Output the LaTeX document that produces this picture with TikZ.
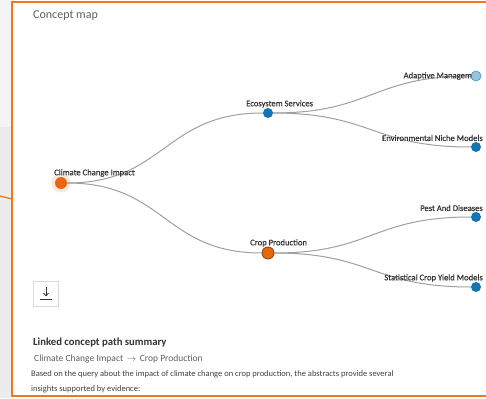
\documentclass[tikz,border=0pt]{standalone}
\usepackage{fontspec}
\setmainfont{Carlito}
\newfontfamily\maplabelfont{Carlito}[FakeBold=0.3]
\usetikzlibrary{backgrounds}
\definecolor{frameorange}{RGB}{247,118,28}
\definecolor{hotnode}{RGB}{232,101,18}
\definecolor{hotrim}{RGB}{150,72,22}
\definecolor{coolnode}{RGB}{20,118,176}
\definecolor{linkgray}{RGB}{160,160,160}
\definecolor{labeltext}{RGB}{50,50,50}
\definecolor{softtext}{RGB}{95,95,95}
\definecolor{sidegray}{RGB}{236,236,236}
\definecolor{sidelight}{RGB}{244,244,244}
\tikzset{
  x=1pt, y=-1pt,
  hot/.style={circle, fill=hotnode, inner sep=0pt, minimum size=11pt},
  cool/.style={circle, fill=coolnode, inner sep=0pt, minimum size=10pt},
  maplabel/.style={inner sep=0pt, text=labeltext, font=\maplabelfont\fontsize{8.6}{9}\selectfont},
  link/.style={draw=linkgray, line width=1pt},
  summary/.style={inner sep=0pt, anchor=base west},
}
\begin{document}
\begin{tikzpicture}
\useasboundingbox (0,0) rectangle (486,398);
\clip (0,0) rectangle (486,398);

% title
\node[inner sep=0pt, anchor=base west, text=softtext, font=\fontsize{12}{13}\selectfont] (title) at (33,19) {Concept map};

% concept nodes
\node[hot, minimum size=12pt] (cci) at (61,183) {};
\node[cool] (eco) at (268,113) {};
\node[hot, draw=hotrim, line width=0.9pt, minimum size=12pt] (crop) at (268,253) {};
\node[circle, fill=coolnode!55, draw=coolnode!80, line width=0.6pt, inner sep=0pt, minimum size=10pt, fill opacity=0.8] (adapt) at (476,76) {};
\node[cool] (niche) at (476,147) {};
\node[cool] (pest) at (476,217) {};
\node[cool] (yield) at (476,287) {};

% labels
\node[maplabel, anchor=west] (lcci) at (54,173) {Climate Change Impact};
\node[maplabel, anchor=west] (leco) at (246,104) {Ecosystem Services};
\node[maplabel, anchor=west] (lcrop) at (250,243) {Crop Production};
\node[maplabel, anchor=east] (ladapt) at (472,76) {Adaptive Managem};
\node[maplabel, anchor=east] (lniche) at (483,138) {Environmental Niche Models};
\node[maplabel, anchor=east] (lpest) at (483,208) {Pest And Diseases};
\node[maplabel, anchor=east] (lyield) at (483,278) {Statistical Crop Yield Models};

\begin{scope}[on background layer]
% page background and side strip
\fill[white] (0,0) rectangle (486,398);
\fill[sidelight] (0,0) rectangle (12,127);
\fill[sidegray] (0,127) rectangle (12,398);
\fill[hotnode, opacity=0.15] (cci.center) circle (9.5);
% connectors
\draw[link] (cci) .. controls +(104,0) and +(-104,0) .. (eco);
\draw[link] (cci) .. controls +(104,0) and +(-104,0) .. (crop);
\draw[link] (eco) .. controls +(104,0) and +(-104,0) .. (adapt);
\draw[link] (eco) .. controls +(104,0) and +(-104,0) .. (niche);
\draw[link] (crop) .. controls +(104,0) and +(-104,0) .. (pest);
\draw[link] (crop) .. controls +(104,0) and +(-104,0) .. (yield);
\end{scope}

% panel frame and its lead-in stroke
\draw[frameorange, line width=1.3pt] (0,196) -- (12,199);
\draw[frameorange, line width=2.2pt] (12,2) rectangle (495,396);

% download button
\node[draw=black!15, fill=white, line width=0.8pt, minimum width=25pt, minimum height=25pt, inner sep=0pt] (dl) at (46,293.5) {};
\draw[labeltext, line width=0.8pt] (46,287) -- (46,295.5);
\draw[labeltext, line width=0.8pt] (43.5,293) -- (46,295.8) -- (48.5,293);
\draw[labeltext, line width=1pt] (40,299.5) -- (52,299.5);

% summary
\node[summary, text=black!80, font=\fontsize{10.7}{12}\bfseries\selectfont] (sumtitle) at (33,345) {Linked concept path summary};
\node[summary, text=softtext, font=\fontsize{9.5}{11}\selectfont] (sumpath) at (34,361.5) {Climate Change Impact\,\ $\rightarrow$\,\ Crop Production};
\node[summary, text=black!75, font=\fontsize{8.5}{10}\selectfont] (sumbody1) at (31,376) {Based on the query about the impact of climate change on crop production, the abstracts provide several};
\node[summary, text=black!75, font=\fontsize{8.5}{10}\selectfont] (sumbody2) at (31,391) {insights supported by evidence:};
\end{tikzpicture}
\end{document}
